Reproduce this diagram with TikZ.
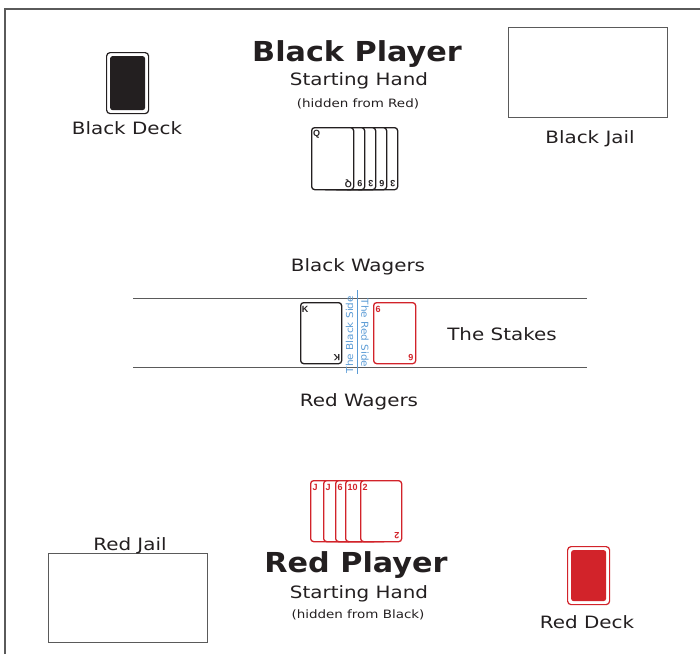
\documentclass[tikz,border=0pt]{standalone}
\usepackage{fontspec}
\setmainfont[FakeStretch=1.17]{DejaVu Sans}
\newfontfamily\ttlfont[FakeStretch=1.1]{DejaVu Sans}
\newfontfamily\plainfont[FakeStretch=1.09]{DejaVu Sans}
\newfontfamily\idxfont{Liberation Sans}
\definecolor{ink}{HTML}{231F20}
\definecolor{cardred}{HTML}{D2232A}
\definecolor{sideblue}{HTML}{5B9BD5}
\definecolor{framegray}{HTML}{5A5A5A}
\tikzset{
  lbl/.style={font=\fontsize{17}{17}\selectfont, text=ink, anchor=base, inner sep=0pt},
  ttl/.style={font=\ttlfont\fontsize{27.5}{27.5}\selectfont\bfseries, text=ink, anchor=base, inner sep=0pt},
  hid/.style={font=\fontsize{11.5}{11.5}\selectfont, text=ink, anchor=base, inner sep=0pt},
  sidelbl/.style={font=\plainfont\fontsize{9.6}{9.6}\selectfont, text=sideblue, inner sep=0pt},
  cardbox/.style={draw, line width=1.3pt, rounded corners=3pt, fill=white, minimum width=42pt, minimum height=62pt, anchor=north west, inner sep=0pt},
  blackcard/.style={cardbox, draw=ink},
  redcard/.style={cardbox, draw=cardred, minimum width=41pt, minimum height=61pt},
  idx/.style={font=\idxfont\fontsize{9}{9}\selectfont\bfseries, inner sep=0pt},
  bidx/.style={idx, text=ink},
  ridx/.style={idx, text=cardred},
  jail/.style={draw=framegray, line width=1pt, anchor=north west, inner sep=0pt},
  deckouter/.style={line width=1.2pt, rounded corners=3.5pt, fill=white, minimum width=42pt, minimum height=61pt, anchor=north west, inner sep=0pt},
  deckinner/.style={rounded corners=2.5pt, minimum width=35pt, minimum height=54pt, inner sep=0pt},
  rule/.style={draw=framegray, line width=1pt}
}
\begin{document}
\begin{tikzpicture}[x=1pt,y=-1pt]
\useasboundingbox (0,0) rectangle (700,654);
% frame
\coordinate (fbl) at (5,654);
\coordinate (ftl) at (5,9);
\coordinate (ftr) at (700,9);
\draw[framegray, line width=1.2pt] (fbl) -- (ftl) -- (ftr);

% ---------- Black side ----------
\node[ttl] (bplayer) at (357,61.7) {Black Player};
\node[lbl] (bstart) at (359,85.5) {Starting Hand};
\node[hid] (bhidden) at (358,107.5) {(hidden from Red)};

% black deck
\node[deckouter, draw=ink, minimum height=61pt] (bdeck) at (106,52) {};
\node[deckinner, fill=ink] (bdeckin) at (bdeck.center) {};
\node[lbl] (bdecklbl) at (127,134) {Black Deck};

% black jail
\node[jail, minimum width=159pt, minimum height=90pt] (bjail) at (508,27) {};
\node[lbl] (bjaillbl) at (590,143) {Black Jail};

% black hand
\node[blackcard] (bc5) at (355,127) {};
\node[bidx, rotate=180] (bc5i) at ([shift={(-5.5pt,6.5pt)}]bc5.south east) {3};
\node[blackcard] (bc4) at (344,127) {};
\node[bidx, rotate=180] (bc4i) at ([shift={(-5.5pt,6.5pt)}]bc4.south east) {6};
\node[blackcard] (bc3) at (333,127) {};
\node[bidx, rotate=180] (bc3i) at ([shift={(-5.5pt,6.5pt)}]bc3.south east) {3};
\node[blackcard] (bc2) at (322,127) {};
\node[bidx, rotate=180] (bc2i) at ([shift={(-5.5pt,6.5pt)}]bc2.south east) {9};
\node[blackcard] (bc1) at (311,127) {};
\node[bidx] (bc1i) at ([shift={(5.5pt,-7pt)}]bc1.north west) {Q};
\node[bidx, rotate=180] (bc1j) at ([shift={(-6pt,6.5pt)}]bc1.south east) {Q};

% ---------- Stakes ----------
\node[lbl] (bwagers) at (358,271) {Black Wagers};
\coordinate (l1a) at (133,298);
\coordinate (l1b) at (587,298);
\coordinate (l2a) at (133,367);
\coordinate (l2b) at (587,367);
\draw[rule] (l1a) -- (l1b);
\draw[rule] (l2a) -- (l2b);
\node[lbl] (rwagers) at (359,406) {Red Wagers};
\node[lbl] (stakes) at (502,340) {The Stakes};

\coordinate (sidetop) at (357,290);
\coordinate (sidebot) at (357,374);
\draw[sideblue, line width=1pt] (sidetop) -- (sidebot);
\node[sidelbl, rotate=90] (bside) at (349.5,334.5) {The Black Side};
\node[sidelbl, rotate=-90] (rside) at (365,333) {The Red Side};

\node[blackcard, minimum width=41pt, minimum height=61pt] (kcard) at (300,302) {};
\node[bidx] (kcardi) at ([shift={(5pt,-7pt)}]kcard.north west) {K};
\node[bidx, rotate=180] (kcardj) at ([shift={(-5.5pt,6.5pt)}]kcard.south east) {K};
\node[redcard, minimum width=42pt] (scard) at (373,302) {};
\node[ridx] (scardi) at ([shift={(5pt,-7pt)}]scard.north west) {6};
\node[ridx, rotate=180] (scardj) at ([shift={(-5.5pt,6.5pt)}]scard.south east) {6};

% ---------- Red side ----------
\node[redcard] (rc1) at (310,480) {};
\node[ridx] (rc1i) at ([shift={(5pt,-7pt)}]rc1.north west) {J};
\node[redcard] (rc2) at (323,480) {};
\node[ridx] (rc2i) at ([shift={(5pt,-7pt)}]rc2.north west) {J};
\node[redcard] (rc3) at (335,480) {};
\node[ridx] (rc3i) at ([shift={(5pt,-7pt)}]rc3.north west) {6};
\node[redcard] (rc4) at (345,480) {};
\node[ridx] (rc4i) at ([shift={(7.5pt,-7pt)}]rc4.north west) {10};
\node[redcard] (rc5) at (360,480) {};
\node[ridx] (rc5i) at ([shift={(5pt,-7pt)}]rc5.north west) {2};
\node[ridx, rotate=180] (rc5j) at ([shift={(-5.5pt,6.5pt)}]rc5.south east) {2};

\node[ttl] (rplayer) at (356,572.5) {Red Player};
\node[lbl] (rstart) at (359,598) {Starting Hand};
\node[hid] (rhidden) at (358,618) {(hidden from Black)};

% red jail
\node[jail, minimum width=159pt, minimum height=89pt] (rjail) at (48,553) {};
\node[lbl] (rjaillbl) at (130,550) {Red Jail};

% red deck
\node[deckouter, draw=cardred, minimum height=58pt] (rdeck) at (567,546) {};
\node[deckinner, fill=cardred, minimum height=51pt] (rdeckin) at (rdeck.center) {};
\node[lbl] (rdecklbl) at (587,628.5) {Red Deck};
\end{tikzpicture}
\end{document}
